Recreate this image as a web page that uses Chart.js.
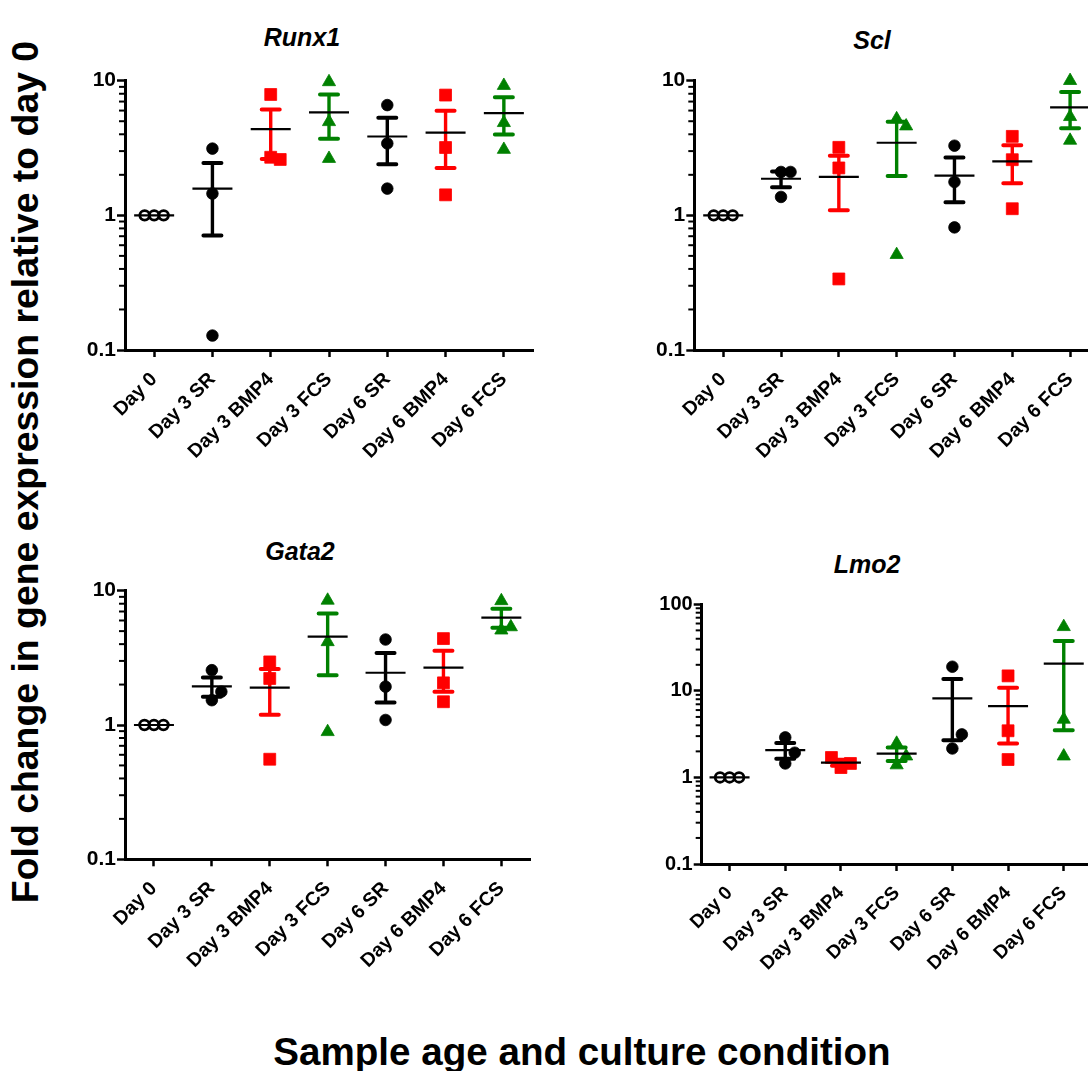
<!DOCTYPE html>
<html>
<head>
<meta charset="utf-8">
<script src="https://cdn.jsdelivr.net/npm/chart.js"></script>
<style>
html,body{margin:0;padding:0;background:#fff;width:1088px;height:1071px;overflow:hidden;position:relative;}
.panel{position:absolute;}
.t{position:absolute;font-family:"Liberation Sans",Arial,sans-serif;font-weight:bold;color:#000;white-space:nowrap;line-height:1;transform:translate(-50%,-50%);}
.pt{font-style:italic;font-size:25px;}
</style>
</head>
<body>
<div class="t" style="left:25.5px;top:472px;font-size:37.4px;transform:translate(-50%,-50%) rotate(-90deg);">Fold change in gene expression relative to day 0</div>
<div class="t" style="left:582px;top:1052px;font-size:38.6px;">Sample age and culture condition</div>
<div class="t pt" style="left:302px;top:37px;">Runx1</div>
<div class="t pt" style="left:872px;top:40px;">Scl</div>
<div class="t pt" style="left:300px;top:551px;">Gata2</div>
<div class="t pt" style="left:867px;top:564px;">Lmo2</div>

<div class="panel" style="left:60px;top:60px;"><canvas id="c1" width="500" height="440"></canvas></div>
<div class="panel" style="left:630px;top:60px;"><canvas id="c2" width="500" height="440"></canvas></div>
<div class="panel" style="left:60px;top:570px;"><canvas id="c3" width="500" height="440"></canvas></div>
<div class="panel" style="left:630px;top:580px;"><canvas id="c4" width="500" height="440"></canvas></div>

<script>
// ---------------- DATA ----------------
const categories = ['Day 0', 'Day 3 SR', 'Day 3 BMP4', 'Day 3 FCS', 'Day 6 SR', 'Day 6 BMP4', 'Day 6 FCS'];

const yTicksSmall = [0.1, 1, 10];
const yTickLabelsSmall = ['0.1', '1', '10'];
const yTicksLarge = [0.1, 1, 10, 100];
const yTickLabelsLarge = ['0.1', '1', '10', '100'];

const runx1Points = [[1, 1, 1], [3.13, 1.45, 0.128], [7.9, 2.7, 2.6], [9.8, 4.95, 2.64], [6.59, 3.42, 1.58], [7.82, 3.19, 1.42], [9.2, 4.87, 3.08]];
const runx1Mean = [1, 1.58, 4.37, 5.81, 3.85, 4.12, 5.75];
const runx1Sem = [0, 0.87, 1.75, 2.10, 1.45, 1.87, 1.77];

const sclPoints = [[1, 1, 1], [2.1, 2.1, 1.37], [3.2, 2.25, 0.337], [5.2, 4.6, 0.51], [3.29, 1.77, 0.814], [3.86, 2.59, 1.12], [10, 5.4, 3.6]];
const sclMean = [1, 1.87, 1.93, 3.46, 1.97, 2.52, 6.34];
const sclSem = [0, 0.25, 0.84, 1.5, 0.72, 0.79, 1.9];

const gata2Points = [[1, 1, 1], [2.56, 1.53, 1.77], [2.95, 2.22, 0.556], [8.47, 4.16, 0.89], [4.33, 1.93, 1.09], [4.4, 2.06, 1.49], [8.4, 5.08, 5.37]];
const gata2Mean = [1, 1.94, 1.90, 4.55, 2.45, 2.67, 6.31];
const gata2Sem = [0, 0.32, 0.71, 2.2, 0.98, 0.9, 1.02];

const lmo2Points = [[1, 1, 1], [2.9, 1.45, 1.93], [1.3, 1.45, 1.7], [2.47, 1.39, 1.76], [19, 2.16, 3.14], [14.9, 3.46, 1.61], [55, 4.68, 1.76]];
const lmo2Mean = [1, 2.07, 1.48, 1.88, 8.18, 6.67, 20.6];
const lmo2Sem = [0, 0.43, 0.12, 0.33, 5.5, 4.2, 17.1];

// ---------------- STYLE ----------------
const FONT = '"Liberation Sans", Arial, sans-serif';
const groupColors = ['#000000', '#000000', '#ff0000', '#008000', '#000000', '#ff0000', '#008000'];
const groupShapes = ['circle', 'circle', 'rect', 'triangle', 'circle', 'rect', 'triangle'];

// spread overlapping points sideways (like a column scatter plot)
function spreadOffsets(vals, pxPerDecade, stepUnits, minDist) {
  const placed = [];
  return vals.map(v => {
    const ly = Math.log10(v) * pxPerDecade;
    for (const k of [0, 1, -1, 2, -2, 3, -3]) {
      if (!placed.some(p => p.k === k && Math.abs(p.ly - ly) < minDist)) {
        placed.push({ k, ly });
        return k * stepUnits;
      }
    }
    return 0;
  });
}

const meanSemPlugin = {
  id: 'meanSem',
  afterDatasetsDraw(chart, args, opts) {
    const { ctx } = chart;
    const xs = chart.scales.x, ys = chart.scales.y;
    ctx.save();
    opts.means.forEach((m, i) => {
      const s = opts.sems[i];
      const x = xs.getPixelForValue(i);
      const col = groupColors[i];
      if (s > 0) {
        const yTop = ys.getPixelForValue(m + s);
        const yBot = ys.getPixelForValue(m - s);
        ctx.strokeStyle = col;
        ctx.lineWidth = 3.4;
        ctx.lineCap = 'butt';
        ctx.beginPath();
        ctx.moveTo(x, yTop); ctx.lineTo(x, yBot);
        ctx.stroke();
        ctx.lineWidth = 4;
        ctx.lineCap = 'round';
        ctx.beginPath();
        ctx.moveTo(x - 9, yTop); ctx.lineTo(x + 9, yTop);
        ctx.moveTo(x - 9, yBot); ctx.lineTo(x + 9, yBot);
        ctx.stroke();
      }
      const ym = ys.getPixelForValue(m);
      ctx.strokeStyle = '#000';
      ctx.lineWidth = 2.2;
      ctx.lineCap = 'butt';
      ctx.beginPath();
      ctx.moveTo(x - 20, ym); ctx.lineTo(x + 20, ym);
      ctx.stroke();
    });
    ctx.restore();
  }
};

const minorTickPlugin = {
  id: 'minorTicks',
  afterDraw(chart) {
    const { ctx } = chart;
    const ys = chart.scales.y;
    const x0 = chart.chartArea.left;
    ctx.save();
    ctx.strokeStyle = '#000';
    ctx.lineWidth = 2;
    for (let e = Math.round(Math.log10(ys.min)); e < Math.round(Math.log10(ys.max)); e++) {
      for (let k = 2; k <= 9; k++) {
        const y = ys.getPixelForValue(k * Math.pow(10, e));
        ctx.beginPath();
        ctx.moveTo(x0 - 6, y); ctx.lineTo(x0, y);
        ctx.stroke();
      }
    }
    ctx.restore();
  }
};

function makePanel(id, points, means, sems, yTicks, yLabels, L) {
  const plotW = 500 - L.yAxisWidth - L.padRight;
  const plotH = 440 - L.padTop - L.xAxisHeight;
  const decades = Math.log10(yTicks[yTicks.length - 1] / yTicks[0]);
  const stepUnits = 9.5 / (plotW / categories.length);
  const datasets = points.map((vals, i) => {
    const offs = spreadOffsets(vals, plotH / decades, stepUnits, 15);
    const hollow = i === 0;
    const shape = groupShapes[i];
    return {
      label: categories[i],
      clip: false,
      data: vals.map((v, j) => ({ x: i + offs[j], y: v })),
      pointStyle: shape,
      pointRadius: hollow ? 4.8 : (shape === 'rect' ? 8.4 : shape === 'triangle' ? 7.6 : 5.8),
      pointHoverRadius: hollow ? 4.8 : 6,
      pointBackgroundColor: hollow ? '#ffffff' : groupColors[i],
      pointBorderColor: groupColors[i],
      pointBorderWidth: hollow ? 2.8 : 0.8
    };
  });
  const tickFont = { family: FONT, size: L.yFont, weight: 'bold' };
  return new Chart(document.getElementById(id), {
    type: 'scatter',
    data: { datasets },
    options: {
      responsive: false,
      animation: false,
      events: [],
      layout: { padding: { top: L.padTop, right: L.padRight, left: 0, bottom: 0 } },
      plugins: {
        legend: { display: false },
        tooltip: { enabled: false },
        title: { display: false },
        meanSem: { means, sems }
      },
      scales: {
        x: {
          type: 'linear',
          min: -0.5,
          max: categories.length - 0.5,
          afterBuildTicks: s => { s.ticks = categories.map((c, i) => ({ value: i })); },
          afterFit: s => { s.height = L.xAxisHeight; },
          ticks: {
            autoSkip: false,
            minRotation: 45,
            maxRotation: 45,
            padding: 11,
            color: '#000',
            font: { family: FONT, size: L.xFont, weight: 'bold' },
            callback: v => categories[v]
          },
          grid: { drawOnChartArea: false, drawTicks: true, tickLength: 7, tickWidth: 2.5, tickColor: '#000' },
          border: { display: true, color: '#000', width: 3 }
        },
        y: {
          type: 'logarithmic',
          min: yTicks[0],
          max: yTicks[yTicks.length - 1],
          afterBuildTicks: s => { s.ticks = yTicks.map(v => ({ value: v })); },
          afterFit: s => { s.width = L.yAxisWidth; },
          ticks: {
            padding: 1,
            color: '#000',
            font: tickFont,
            callback: (v, i) => yLabels[i]
          },
          grid: { drawOnChartArea: false, drawTicks: true, tickLength: 8, tickWidth: 2.5, tickColor: '#000' },
          border: { display: true, color: '#000', width: 3 }
        }
      }
    },
    plugins: [meanSemPlugin, minorTickPlugin]
  });
}

makePanel('c1', runx1Points, runx1Mean, runx1Sem, yTicksSmall, yTickLabelsSmall,
  { yAxisWidth: 65, padTop: 20.7, padRight: 27, xAxisHeight: 150, yFont: 21, xFont: 19.5 });
makePanel('c2', sclPoints, sclMean, sclSem, yTicksSmall, yTickLabelsSmall,
  { yAxisWidth: 64.3, padTop: 20.7, padRight: 31, xAxisHeight: 150, yFont: 21, xFont: 19.5 });
makePanel('c3', gata2Points, gata2Mean, gata2Sem, yTicksSmall, yTickLabelsSmall,
  { yAxisWidth: 65, padTop: 20.7, padRight: 29.7, xAxisHeight: 150.7, yFont: 21, xFont: 19.5 });
makePanel('c4', lmo2Points, lmo2Mean, lmo2Sem, yTicksLarge, yTickLabelsLarge,
  { yAxisWidth: 71.7, padTop: 24.3, padRight: 38.4, xAxisHeight: 156, yFont: 20, xFont: 19 });
</script>
</body>
</html>
